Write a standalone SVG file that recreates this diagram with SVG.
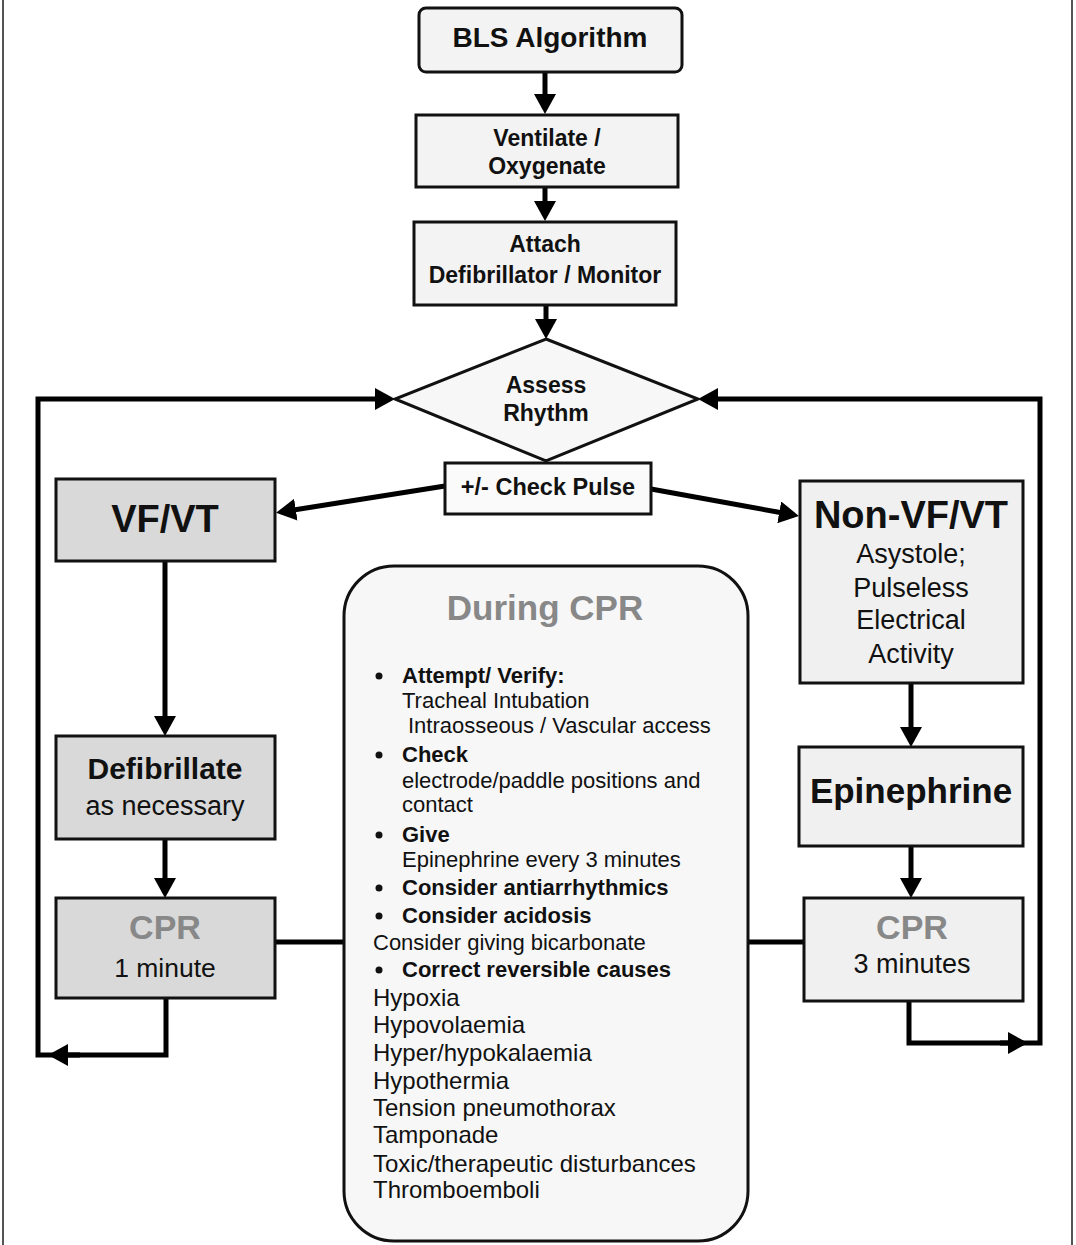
<svg xmlns="http://www.w3.org/2000/svg" width="1076" height="1245" viewBox="0 0 1076 1245">
<defs>
<marker id="ah" viewBox="0 0 20 22" refX="15" refY="11" markerWidth="20" markerHeight="22" markerUnits="userSpaceOnUse" orient="auto">
<path d="M0,0 L20,11 L0,22 z" fill="#000"/>
</marker>
<style>
text{font-family:"Liberation Sans",Arial,Helvetica,sans-serif;fill:#111;}
.c{text-anchor:middle;}
.b{font-weight:bold;}
.g{fill:#888;}
.box{stroke:#111;stroke-width:3;}
.lt{fill:#f3f3f3;}
.dk{fill:#d9d9d9;}
.md{fill:#f0f0f0;}
.con{fill:none;stroke:#000;stroke-width:5;}
.frame{stroke:#555;stroke-width:2;}
.it{font-size:22px;}
.lo{font-size:24px;}
</style>
</defs>
<rect width="1076" height="1245" fill="#fff"/>
<line class="frame" x1="3" y1="0" x2="3" y2="1245"/>
<line class="frame" x1="1072" y1="0" x2="1072" y2="1245"/>

<g id="connectors">
<path class="con" d="M545,72 V109" marker-end="url(#ah)"/>
<path class="con" d="M545,187 V216" marker-end="url(#ah)"/>
<path class="con" d="M546,305 V334" marker-end="url(#ah)"/>
<path class="con" d="M166,998 V1055 H38 V399 H390" marker-end="url(#ah)"/>
<path class="con" d="M80,1055 H53" marker-end="url(#ah)"/>
<path class="con" d="M909,1001 V1043 H1040 V399 H703" marker-end="url(#ah)"/>
<path class="con" d="M1000,1043 H1023" marker-end="url(#ah)"/>
<path class="con" d="M445,486 L281,512" marker-end="url(#ah)"/>
<path class="con" d="M651,489 L794,515" marker-end="url(#ah)"/>
<path class="con" d="M165,561 V731" marker-end="url(#ah)"/>
<path class="con" d="M165,839 V893" marker-end="url(#ah)"/>
<path class="con" d="M275,942 H344"/>
<path class="con" d="M911,683 V742" marker-end="url(#ah)"/>
<path class="con" d="M911,846 V893" marker-end="url(#ah)"/>
<path class="con" d="M748,942 H804"/>
</g>

<g id="bls">
<rect class="box lt" x="419" y="8" width="263" height="64" rx="7"/>
<text class="c b" x="550" y="47" font-size="28">BLS Algorithm</text>
</g>
<g id="ventilate">
<rect class="box lt" x="416" y="115" width="262" height="72"/>
<text class="c b" x="547" y="146" font-size="23">Ventilate /</text>
<text class="c b" x="547" y="174" font-size="23">Oxygenate</text>
</g>
<g id="attach">
<rect class="box lt" x="414" y="222" width="262" height="83"/>
<text class="c b" x="545" y="252" font-size="23">Attach</text>
<text class="c b" x="545" y="283" font-size="23">Defibrillator / Monitor</text>
</g>
<g id="assess">
<polygon class="box" fill="#f7f7f7" points="546,339 698,399 546,461 395,399"/>
<text class="c b" x="546" y="393" font-size="23">Assess</text>
<text class="c b" x="546" y="421" font-size="23">Rhythm</text>
</g>
<g id="checkpulse">
<rect class="box" fill="#fafafa" x="445" y="463" width="206" height="51"/>
<text class="c b" x="548" y="495" font-size="23.5">+/- Check Pulse</text>
</g>
<g id="vfvt">
<rect class="box dk" x="56" y="479" width="219" height="82"/>
<text class="c b" x="165" y="532" font-size="38">VF/VT</text>
</g>
<g id="nonvfvt">
<rect class="box md" x="800" y="481" width="223" height="202"/>
<text class="c b" x="911" y="528" font-size="38">Non-VF/VT</text>
<text class="c" x="911" y="563" font-size="27">Asystole;</text>
<text class="c" x="911" y="597" font-size="27">Pulseless</text>
<text class="c" x="911" y="629" font-size="27">Electrical</text>
<text class="c" x="911" y="663" font-size="27">Activity</text>
</g>
<g id="defibrillate">
<rect class="box dk" x="56" y="736" width="219" height="103"/>
<text class="c b" x="165" y="779" font-size="30">Defibrillate</text>
<text class="c" x="165" y="815" font-size="27">as necessary</text>
</g>
<g id="cpr1">
<rect class="box dk" x="56" y="898" width="219" height="100"/>
<text class="c b g" x="165" y="939" font-size="34">CPR</text>
<text class="c" x="165" y="977" font-size="26.5">1 minute</text>
</g>
<g id="epinephrine">
<rect class="box md" x="799" y="747" width="224" height="99"/>
<text class="c b" x="911" y="803" font-size="35">Epinephrine</text>
</g>
<g id="cpr3">
<rect class="box md" x="804" y="898" width="219" height="103"/>
<text class="c b g" x="912" y="939" font-size="34">CPR</text>
<text class="c" x="912" y="973" font-size="27">3 minutes</text>
</g>
<g id="duringcpr">
<rect class="box" fill="#f7f7f7" x="344" y="566" width="404" height="675" rx="50"/>
<text class="c b g" x="545" y="620" font-size="35">During CPR</text>
<g fill="#111">
<circle cx="379" cy="676" r="3.5"/>
<circle cx="379" cy="755" r="3.5"/>
<circle cx="379" cy="835" r="3.5"/>
<circle cx="379" cy="888" r="3.5"/>
<circle cx="379" cy="916" r="3.5"/>
<circle cx="379" cy="970" r="3.5"/>
</g>
<text class="b it" x="402" y="683">Attempt/ Verify:</text>
<text class="it" x="402" y="708">Tracheal Intubation</text>
<text class="it" x="408" y="733">Intraosseous / Vascular access</text>
<text class="b it" x="402" y="762">Check</text>
<text class="it" x="402" y="788">electrode/paddle positions and</text>
<text class="it" x="402" y="812">contact</text>
<text class="b it" x="402" y="842">Give</text>
<text class="it" x="402" y="867">Epinephrine every 3 minutes</text>
<text class="b it" x="402" y="895">Consider antiarrhythmics</text>
<text class="b it" x="402" y="923">Consider acidosis</text>
<text class="it" x="373" y="950">Consider giving bicarbonate</text>
<text class="b it" x="402" y="977">Correct reversible causes</text>
<text class="lo" x="373" y="1006">Hypoxia</text>
<text class="lo" x="373" y="1033">Hypovolaemia</text>
<text class="lo" x="373" y="1061">Hyper/hypokalaemia</text>
<text class="lo" x="373" y="1089">Hypothermia</text>
<text class="lo" x="373" y="1116">Tension pneumothorax</text>
<text class="lo" x="373" y="1143">Tamponade</text>
<text class="lo" x="373" y="1172">Toxic/therapeutic disturbances</text>
<text class="lo" x="373" y="1198">Thromboemboli</text>
</g>
</svg>
